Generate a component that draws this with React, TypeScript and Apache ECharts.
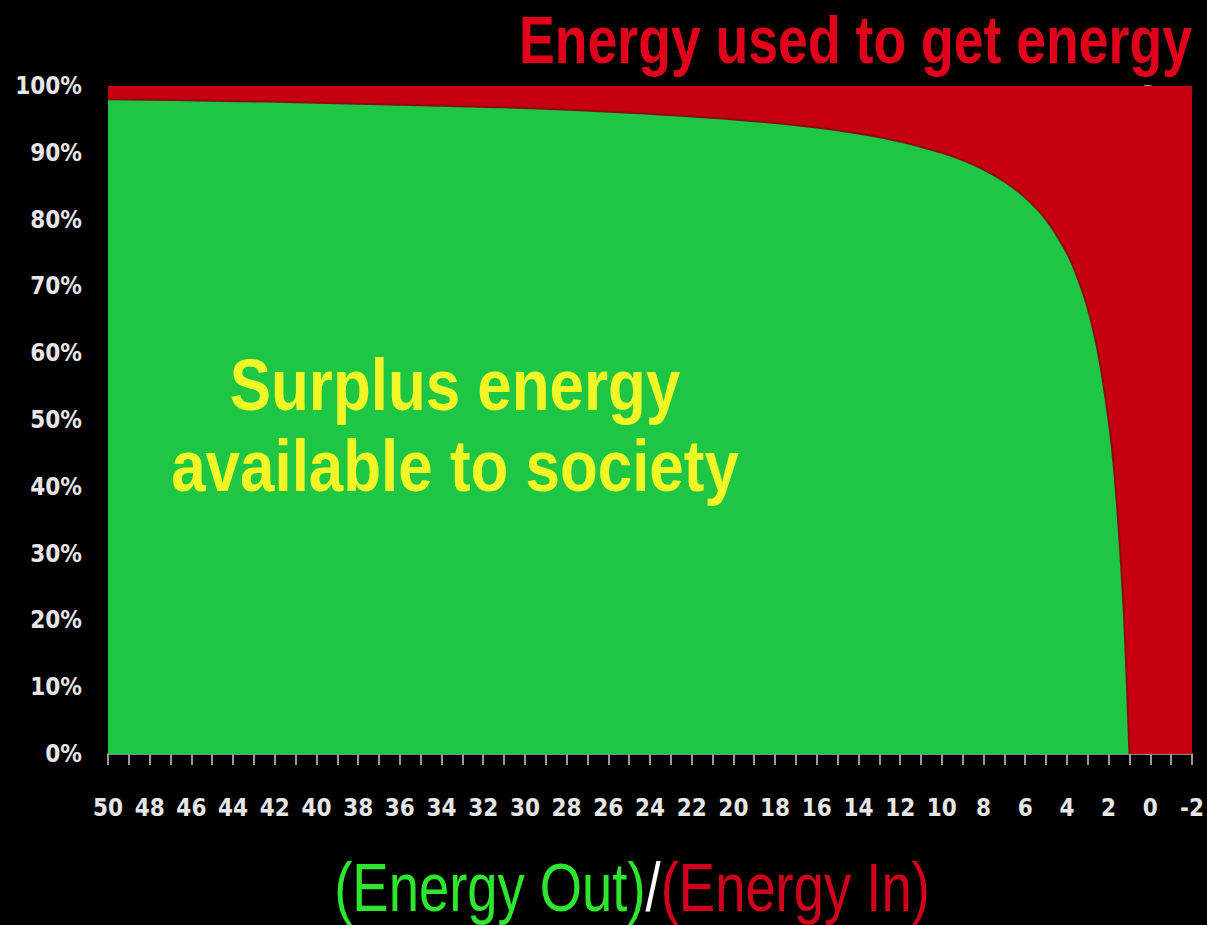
import React, { useEffect, useRef } from 'react';
import * as echarts from 'echarts';

// Energy return ratio (Energy Out / Energy In)
const eroi = [50, 45, 40, 35, 30, 25, 20, 16, 14, 12, 10, 9, 8, 7, 6, 5, 4, 3.5, 3, 2.5, 2, 1.75, 1.5, 1.25, 1];
// Surplus energy share (%) at each ratio
const surplusPct = [98, 97.8, 97.5, 97.1, 96.7, 96, 95, 93.8, 92.9, 91.7, 90, 88.9, 87.5, 85.7, 83.3, 80, 75, 71.4, 66.7, 60, 50, 43, 33, 20, 0];
// Energy used to get energy fills the whole band up to 100%
const usedX = [-2, 50];
const usedPct = [100, 100];

const xMin = -2;
const xMax = 50;
const xStep = 2;
const yMin = 0;
const yMax = 100;
const yStep = 10;

export default function App() {
  const ref = useRef<HTMLDivElement>(null);

  useEffect(() => {
    const chart = echarts.init(ref.current!, null, { renderer: 'svg' });
    const labelFont = "'DejaVu Sans Condensed', 'Liberation Sans Narrow', 'DejaVu Sans', sans-serif";
    const titleFont = "'Liberation Sans', Arial, sans-serif";
    chart.setOption({
      animation: false,
      backgroundColor: '#000000',
      grid: { left: 108, right: 15, top: 86, bottom: 171 },
      xAxis: {
        type: 'value',
        inverse: true,
        min: xMin,
        max: xMax,
        interval: xStep,
        axisLine: { show: true, lineStyle: { color: '#8a8a8a', width: 2 } },
        axisTick: { show: true, length: 11, lineStyle: { color: '#9a9a9a', width: 2 } },
        minorTick: { show: true, splitNumber: 2, length: 11, lineStyle: { color: '#9a9a9a', width: 2 } },
        splitLine: { show: false },
        axisLabel: {
          color: '#e6e6e6',
          fontSize: 24,
          fontWeight: 'bold',
          fontFamily: labelFont,
          margin: 42,
        },
      },
      yAxis: {
        type: 'value',
        min: yMin,
        max: yMax,
        interval: yStep,
        axisLine: { show: true, lineStyle: { color: '#8a8a8a', width: 2 } },
        axisTick: { show: true, length: 6, lineStyle: { color: '#9a9a9a', width: 2 } },
        splitLine: { show: false },
        axisLabel: {
          color: '#e6e6e6',
          fontSize: 24,
          fontWeight: 'bold',
          fontFamily: labelFont,
          margin: 26,
          formatter: '{value}%',
        },
      },
      series: [
        {
          type: 'line',
          name: 'Energy used to get energy',
          data: usedX.map((x, i) => [x, usedPct[i]]),
          symbol: 'none',
          lineStyle: { width: 0 },
          areaStyle: { color: '#c6000f', opacity: 1 },
          z: 1,
        },
        {
          type: 'line',
          name: 'Surplus energy',
          data: eroi.map((x, i) => [x, surplusPct[i]]),
          symbol: 'none',
          smooth: 0.35,
          lineStyle: { color: '#8e0a12', width: 2 },
          areaStyle: { color: '#1ec646', opacity: 1 },
          z: 2,
        },
      ],
      graphic: [
        {
          type: 'text',
          x: 1192,
          y: 40,
          scaleX: 0.8,
          z: 10,
          style: {
            text: 'Energy used to get energy',
            fill: '#e3001b',
            fontSize: 67,
            fontWeight: 'bold',
            fontFamily: titleFont,
            align: 'right',
            verticalAlign: 'middle',
          },
        },
        {
          type: 'text',
          x: 455,
          y: 385,
          scaleX: 0.86,
          z: 10,
          style: {
            text: 'Surplus energy',
            fill: '#f2f526',
            fontSize: 72,
            fontWeight: 'bold',
            fontFamily: titleFont,
            align: 'center',
            verticalAlign: 'middle',
          },
        },
        {
          type: 'text',
          x: 455,
          y: 466,
          scaleX: 0.86,
          z: 10,
          style: {
            text: 'available to society',
            fill: '#f2f526',
            fontSize: 72,
            fontWeight: 'bold',
            fontFamily: titleFont,
            align: 'center',
            verticalAlign: 'middle',
          },
        },
        {
          type: 'text',
          x: 632,
          y: 887,
          scaleX: 0.8,
          z: 10,
          style: {
            text: '{g|(Energy Out)}{w|/}{r|(Energy In)}',
            fontSize: 68,
            fontFamily: titleFont,
            align: 'center',
            verticalAlign: 'middle',
            rich: {
              g: { fill: '#2fe62f', fontSize: 68, fontFamily: titleFont },
              w: { fill: '#ffffff', fontSize: 68, fontFamily: titleFont },
              r: { fill: '#d2001c', fontSize: 68, fontFamily: titleFont },
            },
          },
        },
      ],
    });
    return () => chart.dispose();
  }, []);

  return (
    <div
      ref={ref}
      style={{ position: 'fixed', left: 0, top: 0, width: 1207, height: 925, background: '#000' }}
    />
  );
}
